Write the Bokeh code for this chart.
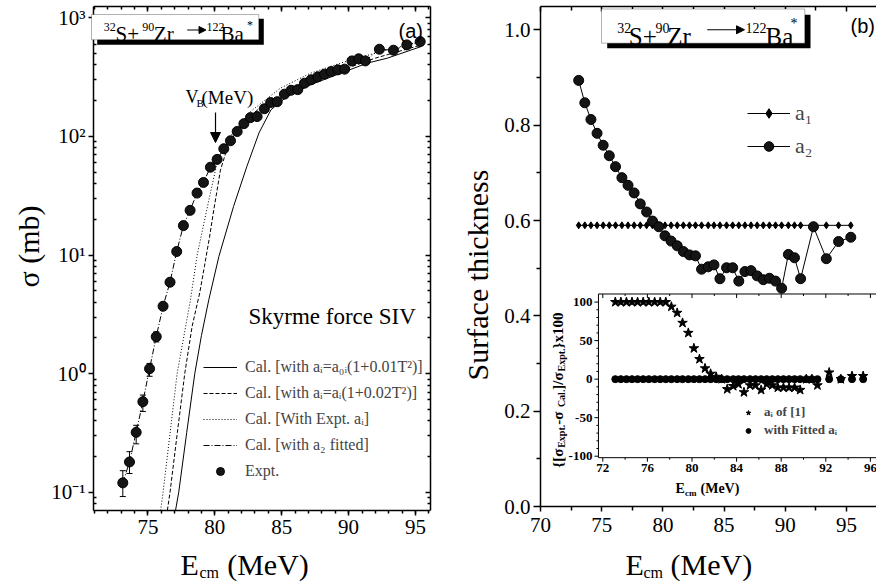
import math
from bokeh.plotting import figure
from bokeh.layouts import row
from bokeh.models import (ColumnDataSource, FixedTicker, LinearAxis, LogAxis, Range1d,
                          Legend, LegendItem, Label, BoxAnnotation, Arrow, NormalHead,
                          TeeHead, Whisker, CustomJSTickFormatter, PrintfTickFormatter)
from bokeh.core.properties import value
from bokeh.embed import file_html
from bokeh.resources import INLINE

# ---------------- data ----------------
E_cm = [73.12, 73.62, 74.12, 74.62, 75.12, 75.62, 76.13, 76.65, 77.15, 77.65,
        78.15, 78.67, 79.15, 79.67, 80.17, 80.67, 81.17, 81.67, 82.17, 82.66,
        83.16, 83.70, 84.17, 84.66, 85.20, 85.70, 86.20, 86.70, 87.20, 87.70,
        88.20, 88.70, 89.20, 89.70, 90.25, 90.75, 91.25, 92.30, 93.35, 94.35, 95.35]
sigma_expt = [0.12, 0.18, 0.32, 0.58, 1.1, 2.05, 3.7, 5.9, 10.7, 17.7,
              23.8, 33.3, 40.9, 55, 64, 78.7, 91.9, 110, 128, 144,
              147, 171, 193, 196, 227, 245, 248, 281, 300, 318,
              335, 352, 364, 369, 433, 451, 433, 543, 533, 591, 630]
err_E = [73.12, 73.62, 74.12, 74.62, 75.12, 75.62]
err_low = [0.092, 0.144, 0.256, 0.48, 0.95, 1.85]
err_high = [0.152, 0.22, 0.367, 0.66, 1.22, 2.25]

# Cal. [with a_i = a_0i(1+0.01T^2)]  (solid)
E_cal_1 = [77.06, 77.3, 77.9, 78.5, 79.0, 79.55, 80.3, 81.4, 82.4, 83.3, 84.2,
           85.4, 87.15, 89.4, 91.4, 92.9, 95.4]
sigma_cal_1 = [0.0702, 0.1, 0.32, 1.0, 2.1, 4.2, 9.7, 25.7, 56, 107, 168,
               217, 272, 341, 415, 457, 571]
# Cal. [with a_i = a_i(1+0.02T^2)]  (dashed)
E_cal_2 = [76.45, 76.65, 77.2, 77.75, 78.3, 78.87, 79.22, 79.6, 79.92, 80.42,
           81.0, 81.7, 82.5, 83.5, 85.0, 87.0, 89.5, 92.0, 95.4]
sigma_cal_2 = [0.0702, 0.1, 0.32, 1.0, 2.5, 4.8, 8.0, 14.1, 24, 52,
               85, 115, 145, 178, 224, 288, 363, 457, 589]
# Cal. [With Expt. a_i]  (dotted)
E_cal_3 = [75.95, 76.13, 77.18, 78.18, 78.68, 79.55, 80.2, 81.0, 82.66, 84.9,
           87.15, 89.4, 92.4, 95.4]
sigma_cal_3 = [0.0702, 0.1, 1.0, 4.2, 10, 29, 62, 95, 162, 255,
               341, 415, 519, 630]
# Cal. [with a2 fitted] reproduces the measured points (dash-dot)
sigma_cal_fit = sigma_expt
V_B = 80.05

a1_vals = [0.59, 0.59, 0.59, 0.59, 0.59, 0.59, 0.59, 0.59, 0.59, 0.59,
           0.59, 0.59, 0.59, 0.59, 0.59, 0.59, 0.59, 0.59, 0.59, 0.59,
           0.59, 0.59, 0.59, 0.59, 0.59, 0.59, 0.59, 0.59, 0.59, 0.59,
           0.59, 0.59, 0.59, 0.59, 0.59, 0.59, 0.59, 0.59, 0.59, 0.59, 0.59]
a2_vals = [0.894, 0.847, 0.812, 0.783, 0.758, 0.736, 0.713, 0.690, 0.674, 0.658,
           0.635, 0.618, 0.599, 0.587, 0.568, 0.557, 0.547, 0.535, 0.528, 0.526,
           0.498, 0.503, 0.507, 0.478, 0.501, 0.501, 0.473, 0.493, 0.495, 0.484,
           0.476, 0.479, 0.473, 0.458, 0.529, 0.522, 0.478, 0.587, 0.520, 0.556, 0.565]
dev_ai_ref1 = [100, 100, 100, 100, 100, 100, 100, 100, 100, 100,
               94, 86, 73, 60, 40, 26, 14, 7, 3, 0,
               -13, -9, -6.5, -17, -8, -8, -14, -6.5, -8, -11,
               -11, -11, -11, -14, 0, 0, -8, 8.6, 0, 4, 4]
dev_fitted = [0, 0, 0, 0, 0, 0, 0, 0, 0, 0,
              0, 0, 0, 0, 0, 0, 0, 0, 0, 0,
              0, 0, 0, 0, 0, 0, 0, 0, 0, 0,
              0, 0, 0, 0, 0, 0, 0, 0, 0, 0, 0]

x1_ticks = [75, 80, 85, 90, 95]
y1_ticks = [0.1, 1, 10, 100, 1000]
x2_ticks = [70, 75, 80, 85, 90, 95]
y2_ticks = [0.0, 0.2, 0.4, 0.6, 0.8, 1.0]
xi_ticks = [72, 76, 80, 84, 88, 92, 96]
xi_tick_labels = ["72", "76", "80", "84", "88", "92", "96"]
yi_ticks = [-100, -50, 0, 50, 100]
yi_tick_labels = ["-100", "-50", "0", "50", "100"]

legend_labels_a = ["Cal. [with a\u1d62=a\u2080\u1d62(1+0.01T\u00b2)]",
                   "Cal. [with a\u1d62=a\u1d62(1+0.02T\u00b2)]",
                   "Cal. [With Expt. a\u1d62]",
                   "Cal. [with a\u2082 fitted]",
                   "Expt."]
legend_labels_b = ["a\u2081", "a\u2082"]
legend_labels_inset = ["a\u1d62 of [1]", "with Fitted a\u1d62"]

# ---------------- geometry ----------------
SERIF = "Liberation Serif"
# panel (a): frame covers page cols 0..430, rows 6..581; the axes box is cols 93..430, rows 6..510
X1_BOX = (70.93, 96.12)
PX1 = (430 - 93) / (X1_BOX[1] - X1_BOX[0])
X1R = (X1_BOX[0] - 93 / PX1, X1_BOX[1])
Y1_BOX = (0.0702, 1245.0)
Y1R = (10 ** (math.log10(0.0702) - 71 / 118.6), 1245.0)
# panel (b): frame covers cols 450..876, rows 5..581; axes box starts at col 540, ends row 506
X2_BOX = (70.0, 97.45)
PX2 = (876 - 540) / (X2_BOX[1] - X2_BOX[0])
X2R = (X2_BOX[0] - 90 / PX2, X2_BOX[1])
Y2_BOX = (0.0, 1.049)
Y2R = (-75 / 477.6, 1.049)
# inset coordinate system laid over the whole frame of panel (b)
IPX, IPY = 11.15, 0.772          # pixels per inset unit (x, y)
IXR = (72 - (602.3 - 450) / IPX, 72 + (876 - 602.3) / IPX)
IYR = (-(581 - 378.3) / IPY, (378.3 - 5) / IPY)
XI0, YI0, YI1 = 71.61, -101.9, 110.5   # inset frame edges


def mapper(L, R, T, B, xr, yr, logy=False):
    def fx(px):
        return xr[0] + (px - L) / (R - L) * (xr[1] - xr[0])

    def fy(py):
        if logy:
            lo, hi = math.log10(yr[0]), math.log10(yr[1])
            return 10 ** (hi - (py - T) / (B - T) * (hi - lo))
        return yr[1] - (py - T) / (B - T) * (yr[1] - yr[0])
    return fx, fy


fx1, fy1 = mapper(0, 430, 6, 581, X1R, Y1R, logy=True)
fx2, fy2 = mapper(450, 876, 5, 581, X2R, Y2R)

BLANK = CustomJSTickFormatter(code="return '';")


def style_axis(ax, size="21px", bold=False, t_in=0, t_out=5, m_in=0, m_out=3,
               lw=1.5, line=True, standoff=3):
    ax.axis_line_color = "black" if line else None
    ax.axis_line_width = lw
    ax.major_tick_line_color = "black"
    ax.minor_tick_line_color = "black"
    ax.major_tick_line_width = lw
    ax.minor_tick_line_width = lw
    ax.major_tick_in = t_in
    ax.major_tick_out = t_out
    ax.minor_tick_in = m_in
    ax.minor_tick_out = m_out
    ax.major_label_text_font = SERIF
    ax.major_label_text_font_size = size
    ax.major_label_text_color = "black"
    ax.major_label_text_font_style = "bold" if bold else "normal"
    ax.major_label_standoff = standoff


def tick_only_axis(cls, ticks, minor, lw=1.5, t_in=5, m_in=3, line=True, bounds="auto"):
    ax = cls(ticker=FixedTicker(ticks=ticks, minor_ticks=minor), formatter=BLANK,
             bounds=bounds)
    style_axis(ax, size="1px", t_in=t_in, t_out=0, m_in=m_in, m_out=0, lw=lw,
               line=line, standoff=0)
    return ax


def lab(p, x, y, text, size, font=SERIF, bold=False, angle=0.0, align="left",
        baseline="alphabetic"):
    p.add_layout(Label(x=x, y=y, text=text, text_font=font, text_font_size=size,
                       text_font_style="bold" if bold else "normal", text_color="black",
                       text_baseline=baseline, text_align=align, angle=angle))


def base_fig(**kw):
    p = figure(output_backend="svg", toolbar_location=None, **kw)
    p.xgrid.grid_line_color = None
    p.ygrid.grid_line_color = None
    p.background_fill_color = "white"
    p.outline_line_color = None
    return p


rot = math.pi / 2

# ================= panel (a) =================
p1 = base_fig(width=440, height=581, x_range=Range1d(*X1R), y_range=Range1d(*Y1R),
              y_axis_type="log", min_border_left=0, min_border_right=10,
              min_border_top=6, min_border_bottom=0)

x1_minor = [v for v in range(71, 97)]
y1_minor = [m * 10.0 ** k for k in range(-2, 4) for m in range(2, 10)
            if Y1_BOX[0] <= m * 10.0 ** k <= Y1_BOX[1]]
p1.xaxis.ticker = FixedTicker(ticks=x1_ticks, minor_ticks=x1_minor)
p1.xaxis.fixed_location = Y1_BOX[0]
p1.xaxis.bounds = X1_BOX
p1.yaxis.ticker = FixedTicker(ticks=y1_ticks, minor_ticks=y1_minor)
p1.yaxis.fixed_location = X1_BOX[0]
p1.yaxis.bounds = Y1_BOX
style_axis(p1.xaxis[0], t_out=5, m_out=3, standoff=5)
style_axis(p1.yaxis[0], t_out=5, m_in=3, m_out=0)
p1.yaxis.formatter = CustomJSTickFormatter(code="""
const sup = {"-": "\u207b", "0": "\u2070", "1": "\u00b9", "2": "\u00b2", "3": "\u00b3"};
const e = Math.round(Math.log10(tick));
let s = "";
for (const c of String(e)) { s += sup[c]; }
return "10" + s;
""")
p1.add_layout(tick_only_axis(LinearAxis, x1_ticks, x1_minor, bounds=X1_BOX), "above")
p1.add_layout(tick_only_axis(LogAxis, y1_ticks, y1_minor, bounds=Y1_BOX), "right")

r_solid = p1.line(E_cal_1, sigma_cal_1, line_color="black", line_width=1)
r_dash = p1.line(E_cal_2, sigma_cal_2, line_color="black", line_width=1, line_dash="4 2")
r_dot = p1.line(E_cal_3, sigma_cal_3, line_color="black", line_width=1, line_dash="1 2")
r_dd = p1.line(E_cm, sigma_cal_fit, line_color="black", line_width=1, line_dash="6 2 1 2")
err_src = ColumnDataSource(dict(x=err_E, lo=err_low, hi=err_high))
p1.add_layout(Whisker(source=err_src, base="x", lower="lo", upper="hi", dimension="height",
                      line_color="black", line_width=1,
                      upper_head=TeeHead(size=6, line_color="black", line_width=1),
                      lower_head=TeeHead(size=6, line_color="black", line_width=1)))
r_expt = p1.scatter(E_cm, sigma_expt, marker="circle", size=10, fill_color="#151515",
                    line_color="black", line_width=1)

leg1 = Legend(items=[LegendItem(label=legend_labels_a[0], renderers=[r_solid]),
                     LegendItem(label=legend_labels_a[1], renderers=[r_dash]),
                     LegendItem(label=legend_labels_a[2], renderers=[r_dot]),
                     LegendItem(label=legend_labels_a[3], renderers=[r_dd]),
                     LegendItem(label=legend_labels_a[4], renderers=[r_expt])],
              location=(203, 100), border_line_color=None, background_fill_alpha=0,
              padding=0, margin=0, spacing=6, glyph_width=34, glyph_height=20,
              label_height=20, label_standoff=8, label_text_font=SERIF,
              label_text_font_size="16px")
p1.add_layout(leg1)

# y-axis title of (a): reads upward from row 287 (bottom of the text) to about row 203
lab(p1, fx1(28), fy1(287), "\u03c3 (mb)", "30px", angle=rot, align="left",
    baseline="middle")

# title box (a)
p1.add_layout(BoxAnnotation(left=fx1(96.7), right=fx1(263.3), top=fy1(18.3), bottom=fy1(44.3),
                            fill_color="black", fill_alpha=1, line_color=None))
p1.add_layout(BoxAnnotation(left=fx1(91), right=fx1(258.3), top=fy1(14), bottom=fy1(39.3),
                            fill_color="white", fill_alpha=1, line_color="black", line_width=1))
lab(p1, fx1(103.3), fy1(26.5), "32", "12px")
lab(p1, fx1(115), fy1(33.3), "S+", "21px")
lab(p1, fx1(141.7), fy1(26.5), "90", "12px")
lab(p1, fx1(153.3), fy1(33.3), "Zr", "21px")
p1.add_layout(Arrow(end=NormalHead(size=7, fill_color="black", line_color="black"),
                    x_start=fx1(186.7), y_start=fy1(29.5), x_end=fx1(205.5), y_end=fy1(29.5),
                    line_color="black", line_width=1))
lab(p1, fx1(206), fy1(26.5), "122", "12px")
lab(p1, fx1(220), fy1(33.3), "Ba", "21px")
lab(p1, fx1(246.5), fy1(24), "*", "12px")
lab(p1, fx1(398), fy1(30), "(a)", "20px", font="Liberation Sans")
lab(p1, fx1(248), fy1(316), "Skyrme force SIV", "23px")

# V_B arrow
p1.add_layout(Arrow(end=NormalHead(size=10, fill_color="black", line_color="black"),
                    x_start=V_B, y_start=fy1(112), x_end=V_B, y_end=fy1(142),
                    line_color="black", line_width=1.2))
lab(p1, fx1(185), fy1(96.7), "V", "18px")
lab(p1, fx1(196), fy1(102), "B", "11px")
lab(p1, fx1(201), fy1(96.7), "(MeV)", "19px")

# x-axis title of (a)
lab(p1, fx1(180), fy1(564), "E", "30px")
lab(p1, fx1(199), fy1(572), "cm", "16px")
lab(p1, fx1(226.7), fy1(564), "(MeV)", "30px")

# ================= panel (b) =================
p2 = base_fig(width=436, height=581, x_range=Range1d(*X2R), y_range=Range1d(*Y2R),
              min_border_left=10, min_border_right=0, min_border_top=5,
              min_border_bottom=0)
p2.extra_x_ranges = {"ix": Range1d(*IXR)}
p2.extra_y_ranges = {"iy": Range1d(*IYR)}
x2_minor = [72.5, 77.5, 82.5, 87.5, 92.5, 97.5]
y2_minor = [0.1, 0.3, 0.5, 0.7, 0.9]
p2.xaxis.ticker = FixedTicker(ticks=x2_ticks, minor_ticks=x2_minor)
p2.xaxis.fixed_location = Y2_BOX[0]
p2.xaxis.bounds = X2_BOX
p2.yaxis.ticker = FixedTicker(ticks=y2_ticks, minor_ticks=y2_minor)
p2.yaxis.fixed_location = X2_BOX[0]
p2.yaxis.bounds = Y2_BOX
style_axis(p2.xaxis[0], t_out=5, m_out=4, standoff=6)
style_axis(p2.yaxis[0], t_out=7, m_out=4)
p2.yaxis.formatter = PrintfTickFormatter(format="%.1f")
p2.add_layout(tick_only_axis(LinearAxis, x2_ticks, x2_minor, m_in=4, bounds=X2_BOX), "above")

lab(p2, fx2(476.5), fy2(274), "Surface thickness", "30px", angle=rot, align="center",
    baseline="middle")

l_a1 = p2.line(E_cm, a1_vals, line_color="black", line_width=1)
s_a1 = p2.scatter(E_cm, a1_vals, marker="diamond", size=7, fill_color="black",
                  line_color="black")
l_a2 = p2.line(E_cm, a2_vals, line_color="black", line_width=1)
s_a2 = p2.scatter(E_cm, a2_vals, marker="circle", size=10, fill_color="#151515",
                  line_color="black")
leg2 = Legend(items=[LegendItem(label=legend_labels_b[0], renderers=[l_a1, s_a1]),
                     LegendItem(label=legend_labels_b[1], renderers=[l_a2, s_a2])],
              location=(297, 422), border_line_color=None, background_fill_alpha=0,
              padding=0, margin=0, spacing=7, glyph_width=43, glyph_height=24,
              label_height=24, label_standoff=5, label_text_font=SERIF,
              label_text_font_size="22px")
p2.add_layout(leg2)

p2.add_layout(BoxAnnotation(left=fx2(606.7), right=fx2(810), top=fy2(13.3), bottom=fy2(46.7),
                            fill_color="black", fill_alpha=1, line_color=None))
p2.add_layout(BoxAnnotation(left=fx2(601), right=fx2(804.3), top=fy2(7.5), bottom=fy2(41.7),
                            fill_color="white", fill_alpha=1, line_color="black", line_width=1))
lab(p2, fx2(616.7), fy2(26.7), "32", "14px")
lab(p2, fx2(628.3), fy2(35), "S+", "25px")
lab(p2, fx2(655), fy2(26.7), "90", "14px")
lab(p2, fx2(666.7), fy2(35), "Zr", "25px")
p2.add_layout(Arrow(end=NormalHead(size=8, fill_color="black", line_color="black"),
                    x_start=fx2(706.7), y_start=fy2(28.3), x_end=fx2(744), y_end=fy2(28.3),
                    line_color="black", line_width=1))
lab(p2, fx2(745), fy2(26.7), "122", "14px")
lab(p2, fx2(765), fy2(35), "Ba", "25px")
lab(p2, fx2(790), fy2(22), "*", "14px")
lab(p2, fx2(850), fy2(24.5), "(b)", "20px", font="Liberation Sans")

lab(p2, fx2(625), fy2(564), "E", "30px")
lab(p2, fx2(643), fy2(572), "cm", "16px")
lab(p2, fx2(670), fy2(564), "(MeV)", "30px")

# ----- inset (drawn in panel (b) on its own ranges "ix"/"iy") -----
ik = dict(x_range_name="ix", y_range_name="iy")
p2.quad(left=[XI0], right=[IXR[1] + 1], bottom=[YI0], top=[YI1], fill_color="white",
        line_color="black", line_width=1, **ik)
xi_minor = [74, 78, 82, 86, 90, 94]
yi_minor = [v for v in range(-90, 101, 10) if v % 50 != 0]
nmx, nmn = len(xi_ticks), len(xi_minor)
p2.segment(x0=xi_ticks, y0=[YI0] * nmx, x1=xi_ticks, y1=[YI0 - 4 / IPY] * nmx,
           line_color="black", line_width=1, **ik)
p2.segment(x0=xi_minor, y0=[YI0] * nmn, x1=xi_minor, y1=[YI0 - 2 / IPY] * nmn,
           line_color="black", line_width=1, **ik)
p2.segment(x0=xi_ticks, y0=[YI1] * nmx, x1=xi_ticks, y1=[YI1 - 4 / IPY] * nmx,
           line_color="black", line_width=1, **ik)
p2.segment(x0=xi_minor, y0=[YI1] * nmn, x1=xi_minor, y1=[YI1 - 2 / IPY] * nmn,
           line_color="black", line_width=1, **ik)
nyx, nyn = len(yi_ticks), len(yi_minor)
p2.segment(x0=[XI0] * nyx, y0=yi_ticks, x1=[XI0 - 4 / IPX] * nyx, y1=yi_ticks,
           line_color="black", line_width=1, **ik)
p2.segment(x0=[XI0] * nyn, y0=yi_minor, x1=[XI0 - 2 / IPX] * nyn, y1=yi_minor,
           line_color="black", line_width=1, **ik)
p2.text(x=xi_ticks, y=[YI0 - 6 / IPY] * nmx, text=xi_tick_labels, text_align="center",
        text_baseline="top", text_font=value(SERIF), text_font_size="13px",
        text_font_style="bold", text_color="black", **ik)
p2.text(x=[XI0 - 6 / IPX] * nyx, y=yi_ticks, text=yi_tick_labels, text_align="right",
        text_baseline="middle", text_font=value(SERIF), text_font_size="13px",
        text_font_style="bold", text_color="black", **ik)

s_ref = p2.scatter(E_cm, dev_ai_ref1, marker="star", size=10, fill_color="black",
                   line_color="black", **ik)
s_fit = p2.scatter(E_cm, dev_fitted, marker="circle", size=7, fill_color="black",
                   line_color="black", **ik)
legi = Legend(items=[LegendItem(label=legend_labels_inset[0], renderers=[s_ref]),
                     LegendItem(label=legend_labels_inset[1], renderers=[s_fit])],
              location=(292, 143), border_line_color=None, background_fill_alpha=0,
              padding=0, margin=0, spacing=2, glyph_width=12, glyph_height=15,
              label_height=15, label_standoff=10, label_text_font=SERIF,
              label_text_font_size="13px", label_text_font_style="bold")
p2.add_layout(legi)

lab(p2, fx2(675), fy2(487.5), "E", "14px", bold=True)
lab(p2, fx2(684.5), fy2(492), "cm", "9px", bold=True)
lab(p2, fx2(700), fy2(487.5), "(MeV)", "14px", bold=True)

pieces = [("{[\u03c3", 467, False), ("Expt.", 447.1, True), (" -\u03c3", 424, False),
          ("Cal.", 406.3, True), ("]/\u03c3", 388.8, False), ("Expt.", 370.6, True),
          ("}x100", 347.5, False)]
for txt, py, sub in pieces:
    lab(p2, fx2(561 if sub else 557), fy2(py), txt, "10px" if sub else "15px",
        bold=True, angle=rot)

layout = row(p1, p2)
open("out.html", "w").write(file_html(layout, INLINE, "chart"))
